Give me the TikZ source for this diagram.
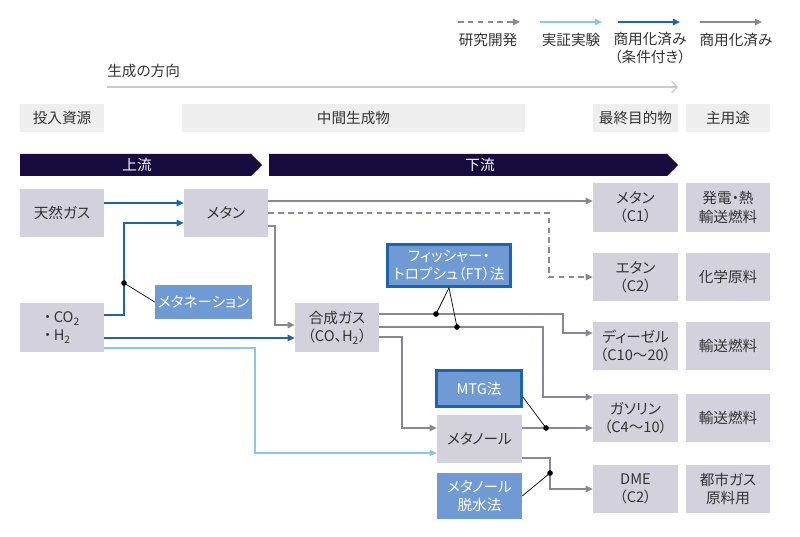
\documentclass[tikz,border=0pt]{standalone}
\usepackage{fontspec}
\setmainfont{Noto Sans CJK JP}[CharacterWidth=AlternateProportional]
\usepackage{xcolor}
\usetikzlibrary{arrows.meta,calc}
\definecolor{ink}{HTML}{333333}
\definecolor{boxgray}{HTML}{D3D2DC}
\definecolor{headgray}{HTML}{EEEEEE}
\definecolor{flowgray}{HTML}{8A8597}
\definecolor{bluedeep}{HTML}{1C64AE}
\definecolor{bluelight}{HTML}{8DC6EC}
\definecolor{procfill}{HTML}{6F9AD3}
\definecolor{bannerink}{HTML}{170B3F}
\definecolor{dirgray}{HTML}{C9C9C9}
\newcommand\fs{\fontsize{10.4}{13}\selectfont}
\tikzset{
  lbl/.style={text=ink, inner sep=0pt, font=\fs},
  box/.style={fill=boxgray, text=ink, minimum width=2.1cm, minimum height=1.22cm, inner sep=1pt, align=center, font=\fs},
  endbox/.style={box, minimum width=2.125cm},
  head/.style={fill=headgray, text=ink, minimum height=0.7cm, inner sep=0pt, font=\fs},
  proc/.style={fill=procfill, text=white, inner sep=1pt, align=center, font=\fs},
  procx/.style={proc, draw=bluedeep, line width=2pt},
  bannertext/.style={text=white, inner sep=0pt, font=\fs},
  tip/.style={-{Triangle[length=5pt,width=4.5pt]}},
  flow/.style={tip, flowgray, line width=1.1pt},
  deep/.style={tip, bluedeep, line width=1.4pt},
  light/.style={tip, bluelight, line width=1pt},
  dev/.style={flow, dash pattern=on 4pt off 3pt},
  pin/.style={black, line width=0.5pt},
  dirline/.style={dirgray, line width=0.8pt, -{Straight Barb[length=4pt,width=8pt]}},
}
\begin{document}
\begin{tikzpicture}[x=0.025cm, y=-0.025cm]
\useasboundingbox (0,0) rectangle (800,537);

% legend
\node[lbl] (lgdev) at (488,40) {研究開発};
\node[lbl] (lgdemo) at (571,40) {実証実験};
\node[lbl, align=center] (lgcond) at (650,48) {商用化済み\\（条件付き）};
\node[lbl] (lgcomm) at (736,40) {商用化済み};
\coordinate (devA) at (458,22);  \coordinate (devB) at (520,22);
\coordinate (demoA) at (540,22); \coordinate (demoB) at (602,22);
\coordinate (condA) at (618,22); \coordinate (condB) at (680,22);
\coordinate (commA) at (700,22); \coordinate (commB) at (762,22);
\draw[dev] (devA) -- (devB);
\draw[light] (demoA) -- (demoB);
\draw[deep] (condA) -- (condB);
\draw[flow] (commA) -- (commB);

% direction
\node[lbl, anchor=west] (dirlbl) at (107,71) {生成の方向};
\coordinate (dirA) at (107,87);
\coordinate (dirB) at (678,87);
\draw[dirline] (dirA) -- (dirB);

% headings
\node[head, minimum width=2.1cm] (hinput) at (62,118) {投入資源};
\node[head, minimum width=8.575cm] (hmid) at (353.5,118) {中間生成物};
\node[head, minimum width=2.125cm] (hfinal) at (635.5,118) {最終目的物};
\node[head, minimum width=2.1cm] (huse) at (728,118) {主用途};

% up / down stream
\fill[bannerink] (20,154) -- (251,154) -- (262,165) -- (251,176) -- (20,176) -- cycle;
\node[bannertext] (upstream) at (137,165) {上流};
\fill[bannerink] (269,154) -- (667,154) -- (678,165) -- (667,176) -- (269,176) -- cycle;
\node[bannertext] (downstream) at (480,165) {下流};

% resources and intermediates
\node[box] (natgas) at (62,213) {天然ガス};
\node[box] (methane) at (226,213) {メタン};
\node[box, align=left] (feed) at (62,327.5) {・\,CO\textsubscript{2}\\・\,H\textsubscript{2}};
\node[proc, minimum width=2.425cm, minimum height=0.85cm] (methanation) at (203.5,302) {メタネーション};
\node[box] (syngas) at (337,327.5) {合成ガス\\（CO、H\textsubscript{2}）};
\node[procx, minimum width=3.075cm, minimum height=1.05cm] (ft) at (449,265.5) {フィッシャー・\\トロプシュ（FT）法};
\node[procx, minimum width=2.125cm, minimum height=0.9cm] (mtg) at (479,388.5) {MTG法};
\node[box, minimum width=2.125cm, minimum height=1.2cm] (methanol) at (479.5,439) {メタノール};
\node[proc, minimum width=2.125cm, minimum height=1.15cm] (dehyd) at (479.5,496) {メタノール\\脱水法};

% products
\node[endbox] (c1) at (635.5,207.5) {メタン\\（C1）};
\node[endbox] (c2) at (635.5,277) {エタン\\（C2）};
\node[endbox] (diesel) at (635.5,346) {ディーゼル\\（C10～20）};
\node[endbox] (gasoline) at (635.5,418) {ガソリン\\（C4～10）};
\node[endbox] (dme) at (635.5,489) {DME\\（C2）};

% uses
\node[box] (use1) at (728,207.5) {発電・熱\\輸送燃料};
\node[box] (use2) at (728,277) {化学原料};
\node[box] (use3) at (728,346) {輸送燃料};
\node[box] (use4) at (728,418) {輸送燃料};
\node[box] (use5) at (728,489) {都市ガス\\原料用};

% upstream flows
\draw[deep] (natgas.east |- 0,203) -- (methane.west |- 0,203);
\coordinate (mthjoin) at (124,223);
\draw[deep] (feed.east |- 0,315) -| (mthjoin) -- (methane.west |- mthjoin);
\draw[deep] (feed.east |- 0,338) -- (syngas.west |- 0,338);
\coordinate (meohjoin) at (255,453);
\draw[light] (feed.east |- 0,348) -| (meohjoin) -- (methanol.west |- meohjoin);

% downstream flows
\draw[flow] (methane.east |- 0,201) -- (c1.west |- 0,201);
\draw[dev] (methane.east |- 0,213) -| (549,277) -- (c2.west);
\draw[flow] (methane.east |- 0,226) -| (275,325) -- (syngas.west |- 0,325);
\draw[flow] (syngas.east |- 0,314) -| (563,333) -- (diesel.west |- 0,333);
\draw[flow] (syngas.east |- 0,327) -| (543,397) -- (gasoline.west |- 0,397);
\draw[flow] (syngas.east |- 0,337) -| (402,428) -- (methanol.west |- 0,428);
\draw[flow] (methanol.east |- 0,428) -- (gasoline.west |- 0,428);
\draw[flow] (methanol.east |- 0,458) -| (550,489) -- (dme.west);

% process markers
\coordinate (mthdot) at (124,283);
\coordinate (ftdotA) at (436,314);
\coordinate (ftdotB) at (457,327);
\coordinate (mtgdot) at (546,428);
\coordinate (dmedot) at (550,473);
\draw[pin] (mthdot) -- (methanation.west);
\draw[pin] (ft.south) -- (ftdotA);
\draw[pin] (ft.south) -- (ftdotB);
\draw[pin] (mtg.-11) -- (mtgdot);
\draw[pin] (dehyd.east) -- (dmedot);
\foreach \d in {mthdot,ftdotA,ftdotB,mtgdot,dmedot}
  \fill[black] (\d) circle (2pt);
\end{tikzpicture}
\end{document}
